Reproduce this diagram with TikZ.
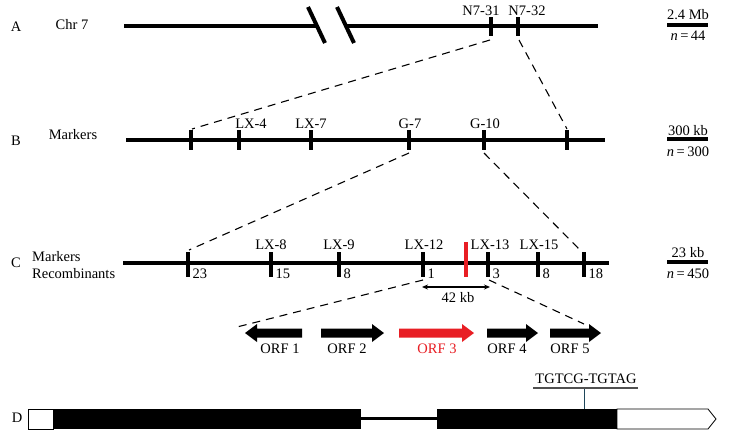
\documentclass[tikz,border=0pt]{standalone}
\usepackage{fontspec}
\setmainfont{Liberation Serif}
\usetikzlibrary{arrows.meta}
\definecolor{orfred}{RGB}{232,30,36}
\definecolor{stemteal}{RGB}{30,70,90}
\definecolor{bargray}{RGB}{80,80,80}
\newcommand\OrfRight[3]{\fill[#3] (#1,328.5) -- ({#2-12},328.5) -- ({#2-12},324) -- (#2,333) -- ({#2-12},342) -- ({#2-12},337.5) -- (#1,337.5) -- cycle;}
\newcommand\OrfLeft[3]{\fill[#3] (#1,328.5) -- ({#2+12},328.5) -- ({#2+12},324) -- (#2,333) -- ({#2+12},342) -- ({#2+12},337.5) -- (#1,337.5) -- cycle;}
\begin{document}
\begin{tikzpicture}[x=1pt,y=-1pt,
  every node/.style={inner sep=0pt, font=\fontsize{14.5}{17}\selectfont},
  chrom/.style={line width=4.5pt},
  tickmark/.style={line width=3.5pt},
  breakmark/.style={line width=4pt},
  zoomline/.style={dash pattern=on 8pt off 6pt, line width=1.1pt},
  scalebar/.style={line width=4.5pt},
  rowlabel/.style={},
  lbl/.style={}]
\useasboundingbox (0,0) rectangle (732,442);
\fill[white] (0,0) rectangle (732,442);

% ---------- Row A ----------
\node[rowlabel] (rA) at (16,27) {A};
\node[lbl] (chr) at (72,25) {Chr 7};
\coordinate (a0) at (124,26);
\coordinate (a1) at (317,26);
\coordinate (a2) at (345.5,26);
\coordinate (a3) at (598,26);
\draw[chrom] (a0) -- (a1);
\draw[chrom] (a2) -- (a3);
\coordinate (br1t) at (308,7); \coordinate (br1b) at (325,43);
\coordinate (br2t) at (337,7); \coordinate (br2b) at (354,43);
\draw[breakmark] (br1t) -- (br1b);
\draw[breakmark] (br2t) -- (br2b);
\coordinate (A1t) at (491,17); \coordinate (A1b) at (491,36); \coordinate (A1z) at (490,40);
\coordinate (A2t) at (518,17); \coordinate (A2b) at (518,36); \coordinate (A2z) at (519,40);
\draw[tickmark] (A1t) -- (A1b);
\draw[tickmark] (A2t) -- (A2b);
\node (n731) at (481,11) {N7-31};
\node (n732) at (527,11) {N7-32};
\node (sA1) at (688,15) {2.4 Mb};
\coordinate (sAl) at (667,25); \coordinate (sAr) at (708,25);
\draw[scalebar] (sAl) -- (sAr);
\node (sA2) at (688,36) {\textit{n}\,=\,44};

% ---------- Row B ----------
\node[rowlabel] (rB) at (16,141) {B};
\node[lbl] (mkB) at (73,135) {Markers};
\coordinate (b0) at (126,140); \coordinate (b1) at (605,140);
\draw[chrom] (b0) -- (b1);
\foreach \nm/\xx in {B1/191,B2/239,B3/311,B4/409,B5/484,B6/567}{
  \coordinate (\nm t) at (\xx,130);
  \coordinate (\nm b) at (\xx,150);
  \draw[tickmark] (\nm t) -- (\nm b);
}
\coordinate (B1z) at (192,129);
\coordinate (B6z) at (567,129);
\coordinate (B4z) at (409,153);
\coordinate (B5z) at (484,153);
\node (lx4) at (251,124) {LX-4};
\node (lx7) at (311,124) {LX-7};
\node (g7) at (410,124) {G-7};
\node (g10) at (485,124) {G-10};
\node (sB1) at (688,131) {300 kb};
\coordinate (sBl) at (667,139); \coordinate (sBr) at (708,139);
\draw[scalebar] (sBl) -- (sBr);
\node (sB2) at (688,152) {\textit{n}\,=\,300};

\draw[zoomline] (A1z) -- (B1z);
\draw[zoomline] (A2z) -- (B6z);

% ---------- Row C ----------
\node[rowlabel] (rC) at (16,263) {C};
\node[lbl, anchor=west] (mkC) at (32,257) {Markers};
\node[lbl, anchor=west] (rec) at (32,274) {Recombinants};
\coordinate (c0) at (123,263); \coordinate (c1) at (609,263);
\draw[chrom] (c0) -- (c1);
\foreach \nm/\xx/\num in {C1/188/23,C2/271/15,C3/339/8,C4/423/1,C5/488/3,C6/538/8,C7/584/18}{
  \coordinate (\nm t) at (\xx,252);
  \coordinate (\nm b) at (\xx,277);
  \draw[tickmark] (\nm t) -- (\nm b);
  \node[anchor=west] (\nm n) at (\xx+4.5,274) {\num};
}
\coordinate (redt) at (466,242); \coordinate (redb) at (466,277);
\draw[tickmark, orfred] (redt) -- (redb);
\coordinate (C1z) at (189,250);
\coordinate (C7z) at (580,250);
\coordinate (C4z) at (423,280);
\coordinate (C5z) at (489,280);
\node (lx8) at (271,245) {LX-8};
\node (lx9) at (339,245) {LX-9};
\node (lx12) at (424,245) {LX-12};
\node (lx13) at (490,245) {LX-13};
\node (lx15) at (539,245) {LX-15};
\coordinate (kbl) at (422,287); \coordinate (kbr) at (490,287);
\draw[line width=1.1pt, {Stealth[length=6pt,width=5pt]}-{Stealth[length=6pt,width=5pt]}] (kbl) -- (kbr);
\node (kb) at (458,298) {42 kb};
\node (sC1) at (688,253) {23 kb};
\coordinate (sCl) at (667,262); \coordinate (sCr) at (708,262);
\draw[scalebar] (sCl) -- (sCr);
\node (sC2) at (688,274) {\textit{n}\,=\,450};

\draw[zoomline] (B4z) -- (C1z);
\draw[zoomline] (B5z) -- (C7z);

% ---------- ORFs ----------
\OrfLeft{302}{245}{black}
\OrfRight{321}{384}{black}
\OrfRight{399}{474}{orfred}
\OrfRight{487}{538}{black}
\OrfRight{550}{601}{black}
\coordinate (orfL) at (237,327);
\coordinate (orfR) at (584,324);
\draw[zoomline] (C4z) -- (orfL);
\draw[zoomline] (C5z) -- (orfR);
\node (o1) at (280,349) {ORF 1};
\node (o2) at (347,349) {ORF 2};
\node[text=orfred] (o3) at (437,349) {ORF 3};
\node (o4) at (507,349) {ORF 4};
\node (o5) at (570,349) {ORF 5};

% ---------- Row D ----------
\node[rowlabel] (rD) at (17,418) {D};
\coordinate (intL) at (361,418); \coordinate (intR) at (437,418);
\draw[line width=3pt] (intL) -- (intR);
\draw[line width=0.8pt, fill=white] (28,409) rectangle (53,429);
\fill (53,409) rectangle (361,429);
\fill (437,409) rectangle (617,429);
\draw[line width=0.8pt, fill=white] (617,409) -- (708,409) -- (716,419) -- (708,429) -- (617,429) -- cycle;
\coordinate (stemT) at (584,388); \coordinate (stemB) at (584,409);
\draw[stemteal, line width=1pt] (stemT) -- (stemB);
\coordinate (barL) at (533,388); \coordinate (barR) at (638,388);
\draw[bargray, line width=1.5pt] (barL) -- (barR);
\node (seq) at (586,379) {TGTCG-TGTAG};
\end{tikzpicture}
\end{document}
